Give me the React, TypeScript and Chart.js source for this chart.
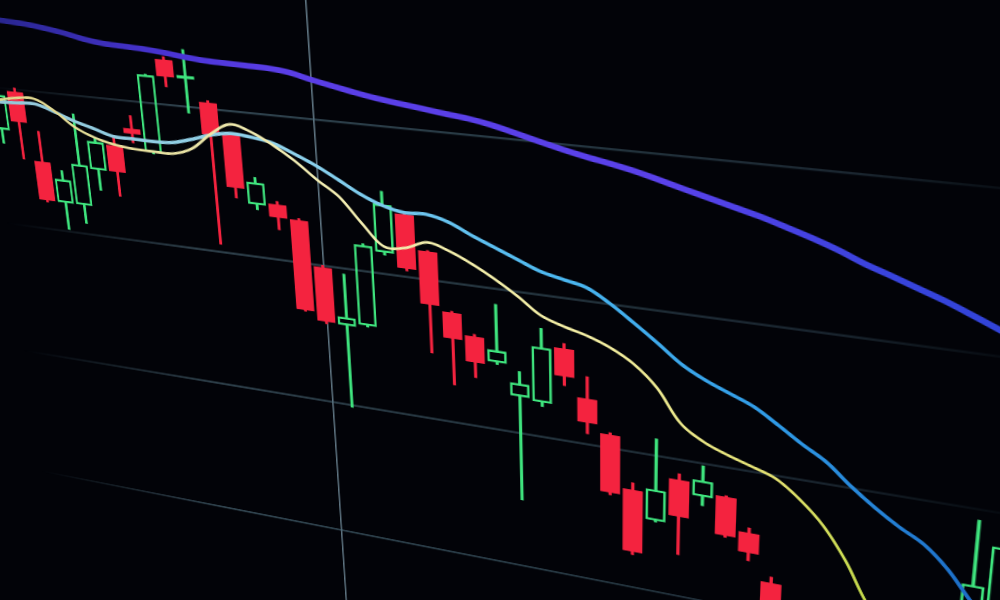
import React, { useEffect, useRef } from "react";
import { Chart, registerables } from "chart.js";

Chart.register(...registerables);

// ---------------- data (candle index, prices) ----------------
const LINE_INDEX = [
  0, 1, 2, 3, 4, 5, 6, 7, 8, 9, 10, 11, 12, 13, 14, 15, 16, 17, 18, 19, 20, 21, 22, 23,
  24, 25, 26, 27, 28, 29, 30, 31, 32, 33, 34, 35, 36, 37, 38, 39, 40, 41, 42, 43, 44, 45, 46,
];
const CANDLE_INDEX = LINE_INDEX.slice(1);

const OPEN = [
  37.0, 39.84, 34.96, 32.11, 32.12, 34.84, 36.73, 38.07, 36.55, 43.05, 41.89, 40.42, 38.4, 33.71,
  33.9, 32.98, 29.86, 25.89, 26.1, 31.47, 34.27, 31.94, 27.91, 26.45, 24.84, 22.65, 22.48, 26.52,
  23.26, 20.96, 17.26, 15.29, 18.56, 17.64, 17.92, 15.63, 12.29, 10.0, 8.3, 6.6, 5.0, 5.6, 4.2,
  6.4, 10.4, 13.5,
];
const HIGH = [
  41.1, 40.1, 37.16, 34.48, 38.68, 37.15, 37.45, 38.98, 41.95, 43.25, 43.84, 40.55, 38.5, 35.61,
  34.11, 33.1, 30.0, 29.58, 31.9, 35.66, 34.4, 32.0, 28.0, 26.6, 28.91, 24.44, 27.69, 26.87, 24.8,
  21.1, 17.77, 21.2, 18.99, 19.84, 18.0, 15.99, 12.73, 10.4, 8.8, 7.0, 6.4, 5.9, 6.8, 10.6, 19.29,
  18.6,
];
const LOW = [
  36.0, 35.0, 32.0, 30.14, 30.77, 33.37, 33.11, 37.08, 36.45, 41.22, 39.57, 30.54, 34.01, 33.36,
  32.13, 26.5, 25.8, 19.84, 26.0, 31.3, 30.4, 24.82, 22.75, 23.52, 24.7, 15.04, 22.19, 23.93, 20.76,
  16.6, 12.45, 15.2, 13.09, 16.99, 15.0, 13.6, 9.4, 7.6, 6.0, 4.6, 4.2, 3.6, 3.8, 6.0, 10.0, 13.2,
];
const CLOSE = [
  39.5, 37.67, 32.13, 33.82, 35.07, 36.86, 34.86, 37.71, 41.91, 41.9, 42.1, 38.22, 34.72, 35.26,
  32.98, 26.58, 25.95, 26.48, 31.8, 34.78, 30.55, 28.25, 26.07, 24.6, 25.69, 23.58, 26.37, 24.57,
  21.55, 16.76, 12.67, 17.55, 15.89, 18.78, 15.12, 14.18, 9.9, 8.0, 6.4, 5.0, 5.9, 4.0, 6.5, 10.2,
  14.8, 17.69,
];

const MA_FAST = [
  38.92, 39.13, 39.4, 39.47, 38.76, 37.75, 37.15, 36.81, 36.65, 36.62, 36.63, 37.14, 38.29, 39.09,
  38.71, 37.98, 37.07, 35.95, 34.96, 33.32, 31.89, 32.0, 32.56, 32.14, 31.46, 30.63, 29.67, 28.58,
  28.04, 27.63, 27.04, 26.16, 24.75, 22.58, 21.52, 20.88, 20.36, 19.8, 18.65, 17.1, 14.85, 12.0,
  10.3, 9.0, 8.4, 8.6, 9.4,
];
const MA_MID = [
  38.84, 38.98, 39.05, 39.11, 38.69, 38.18, 37.79, 37.38, 37.36, 37.33, 37.4, 37.77, 38.22, 38.47,
  38.36, 38.12, 37.54, 36.9, 36.12, 35.31, 34.71, 34.4, 34.46, 34.11, 33.42, 32.8, 32.18, 31.57,
  31.22, 30.88, 30.01, 28.94, 27.81, 26.62, 25.78, 25.13, 24.48, 23.5, 22.45, 21.5, 20.15, 18.95,
  17.9, 17.0, 15.55, 13.6, 12.0,
];
const MA_SLOW = [
  45.04, 44.87, 44.76, 44.67, 44.5, 44.28, 43.98, 43.79, 43.72, 43.65, 43.53, 43.36, 43.23, 43.18,
  43.14, 43.1, 42.95, 42.62, 42.32, 42.03, 41.78, 41.58, 41.4, 41.21, 41.04, 40.78, 40.42, 40.04,
  39.68, 39.36, 39.08, 38.77, 38.38, 37.97, 37.58, 37.18, 36.79, 36.32, 35.83, 35.28, 34.64, 34.1,
  33.54, 32.98, 32.34, 31.67, 30.98,
];

const GRID_PRICES = [10, 20, 30, 40];
const CROSSHAIR_INDEX = 17.05;

// ---------------- view (camera perspective of the photo) ----------------
const CANVAS_W = 1120;
const CANVAS_H = 860;
const X_MIN = -4.78;
const X_MAX = 47.48;
const Y_MIN = -4.94;
const Y_MAX = 51.9;
const VIEW_ORIGIN_INDEX = 17.153;
const VIEW_ORIGIN_PRICE = 40;
const VIEW_UNIT_INDEX = 21.43;
const VIEW_UNIT_GRID = 151.3;
const HOMOGRAPHY = [
  [3900 / 4216, 605 / 4310.4, 316],
  [302 / 4216, 4430 / 4310.4, 119.6],
  [-1 / 4216, 1 / 4310.4, 1],
];

const RED = "#f4233f";
const GREEN = "#3fe47e";
const BG = "#020308";

const FAST_STOPS: [number, string][] = [
  [0.1, "#ddd48a"],
  [0.4, "#f2edb4"],
  [0.65, "#f4efa4"],
  [0.8, "#e2e070"],
  [0.88, "#c4dc48"],
  [1, "#a6d436"],
];
const MID_STOPS: [number, string][] = [
  [0.1, "#94c8d8"],
  [0.4, "#8ed2ec"],
  [0.62, "#4cb8f0"],
  [0.8, "#2f9ae6"],
  [0.93, "#1f74cc"],
  [1, "#1a5fbc"],
];
const SLOW_STOPS: [number, string][] = [
  [0.12, "#28268e"],
  [0.21, "#3a2eb4"],
  [0.29, "#4a34d4"],
  [0.38, "#5a3ee6"],
  [0.71, "#5a42ea"],
  [0.79, "#4a42e4"],
  [0.88, "#3844dc"],
  [1, "#2e44d6"],
];
const GRID_STOPS: [number, string][] = [
  [0.1, "rgba(70,100,115,0)"],
  [0.3, "rgba(80,110,125,0.6)"],
  [0.6, "rgba(70,100,115,0.55)"],
  [0.85, "rgba(55,80,95,0.45)"],
  [1, "rgba(40,60,70,0.05)"],
];

function hGrad(chart: any, stops: [number, string][], fallback: string) {
  if (!chart.chartArea) return fallback;
  const g = chart.ctx.createLinearGradient(0, 0, chart.width, 0);
  stops.forEach(([p, c]) => g.addColorStop(p, c));
  return g;
}

function mul3(A: number[][], B: number[][]) {
  const R = [
    [0, 0, 0],
    [0, 0, 0],
    [0, 0, 0],
  ];
  for (let r = 0; r < 3; r++)
    for (let c = 0; c < 3; c++)
      for (let k = 0; k < 3; k++) R[r][c] += A[r][k] * B[k][c];
  return R;
}

export default function App() {
  const canvasRef = useRef<HTMLCanvasElement | null>(null);
  const wrapRef = useRef<HTMLDivElement | null>(null);

  useEffect(() => {
    document.documentElement.style.background = BG;
    document.documentElement.style.overflow = "hidden";
    document.body.style.margin = "0";
    document.body.style.background = BG;
    document.body.style.overflow = "hidden";

    const canvas = canvasRef.current;
    const wrap = wrapRef.current;
    if (!canvas || !wrap) return;

    const up = (k: number) => CLOSE[k] >= OPEN[k];
    const bodies = CANDLE_INDEX.map((x, k) => ({ x, y: [OPEN[k], CLOSE[k]] }));
    const upperWicks = CANDLE_INDEX.map((x, k) => ({
      x,
      y: [Math.max(OPEN[k], CLOSE[k]), HIGH[k]],
    }));
    const lowerWicks = CANDLE_INDEX.map((x, k) => ({
      x,
      y: [LOW[k], Math.min(OPEN[k], CLOSE[k])],
    }));
    const candleColor = CANDLE_INDEX.map((_, k) => (up(k) ? GREEN : RED));
    const bodyFill = CANDLE_INDEX.map((_, k) => (up(k) ? "rgba(0,0,0,0)" : RED));
    const bodyBorder = CANDLE_INDEX.map((_, k) => (up(k) ? 2.4 : 0));

    const line = (vals: number[], stops: [number, string][], fb: string, w: number) => ({
      type: "line" as const,
      data: LINE_INDEX.map((x, k) => ({ x, y: vals[k] })),
      borderColor: (c: any) => hGrad(c.chart, stops, fb),
      borderWidth: w,
      pointRadius: 0,
      tension: 0.35,
      fill: false,
      order: 0,
    });

    const wick = (data: any[]) => ({
      type: "bar" as const,
      data,
      backgroundColor: candleColor,
      borderWidth: 0,
      barThickness: 2.4,
      grouped: false,
      order: 2,
    });

    const chart = new Chart(canvas, {
      type: "bar",
      data: {
        datasets: [
          line(MA_FAST, FAST_STOPS, "#f0eca8", 2.8),
          line(MA_MID, MID_STOPS, "#5cc0f0", 3.6),
          line(MA_SLOW, SLOW_STOPS, "#5040e0", 5.8),
          {
            type: "bar",
            data: bodies,
            backgroundColor: bodyFill,
            borderColor: candleColor,
            borderWidth: bodyBorder,
            borderSkipped: false,
            barPercentage: 0.88,
            categoryPercentage: 1,
            grouped: false,
            order: 1,
          } as any,
          wick(upperWicks),
          wick(lowerWicks),
        ] as any,
      },
      options: {
        animation: false,
        responsive: false,
        devicePixelRatio: 2,
        events: [],
        layout: { padding: 0 },
        plugins: { legend: { display: false }, tooltip: { enabled: false } },
        scales: {
          x: {
            type: "linear",
            min: X_MIN,
            max: X_MAX,
            offset: false,
            afterBuildTicks: (s: any) => {
              s.ticks = [{ value: CROSSHAIR_INDEX }];
            },
            ticks: { display: false },
            border: { display: false },
            grid: {
              offset: false,
              drawTicks: false,
              color: "rgba(125,155,170,0.75)",
              lineWidth: 1.6,
            },
          },
          y: {
            type: "linear",
            min: Y_MIN,
            max: Y_MAX,
            afterBuildTicks: (s: any) => {
              s.ticks = GRID_PRICES.map((v) => ({ value: v }));
            },
            ticks: { display: false },
            border: { display: false },
            grid: {
              drawTicks: false,
              color: (c: any) => hGrad(c.chart, GRID_STOPS, "rgba(70,100,115,0.5)"),
              lineWidth: 2.2,
            },
          },
        },
      } as any,
    });

    // place the flat chart into the photographed, tilted screen plane
    const xs: any = chart.scales.x;
    const ys: any = chart.scales.y;
    const xc = xs.getPixelForValue(VIEW_ORIGIN_INDEX);
    const pxIdx = xs.getPixelForValue(VIEW_ORIGIN_INDEX + 1) - xc;
    const y0 = ys.getPixelForValue(VIEW_ORIGIN_PRICE);
    const pxGrid = ys.getPixelForValue(VIEW_ORIGIN_PRICE - 10) - y0;
    const al = VIEW_UNIT_INDEX / pxIdx;
    const ga = VIEW_UNIT_GRID / pxGrid;
    const A = [
      [al, 0, -al * xc],
      [0, ga, -ga * y0],
      [0, 0, 1],
    ];
    const M = mul3(HOMOGRAPHY, A);
    const m = [
      M[0][0], M[1][0], 0, M[2][0],
      M[0][1], M[1][1], 0, M[2][1],
      0, 0, 1, 0,
      M[0][2], M[1][2], 0, M[2][2],
    ];
    wrap.style.transform = `matrix3d(${m.join(",")})`;

    return () => {
      chart.destroy();
    };
  }, []);

  return (
    <div
      ref={wrapRef}
      style={{
        position: "fixed",
        left: 0,
        top: 0,
        width: CANVAS_W,
        height: CANVAS_H,
        transformOrigin: "0 0",
        background: BG,
        filter: "blur(0.5px)",
      }}
    >
      <canvas
        ref={canvasRef}
        width={CANVAS_W}
        height={CANVAS_H}
        style={{ display: "block", width: CANVAS_W, height: CANVAS_H }}
      />
    </div>
  );
}
